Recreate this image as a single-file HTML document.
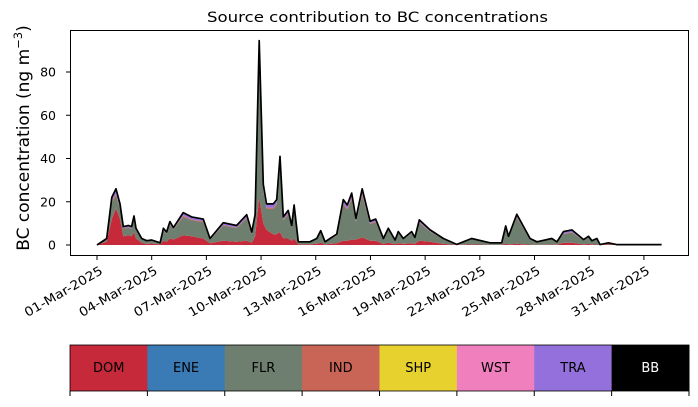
<!DOCTYPE html>
<html><head><meta charset="utf-8"><style>
body{margin:0;background:#fff;}
svg text{font-family:"DejaVu Sans","Liberation Sans",sans-serif;}
</style></head><body>
<svg id="chart" width="698" height="402" viewBox="0 0 698 402" xmlns="http://www.w3.org/2000/svg">
<text x="207" y="22" font-size="14.5" textLength="341" lengthAdjust="spacingAndGlyphs">Source contribution to BC concentrations</text>
<text transform="translate(29,138) rotate(-90)" font-size="17" text-anchor="middle">BC concentration (ng m<tspan font-size="11.5" dy="-7">−3</tspan><tspan dy="7">)</tspan></text>
<g id="layers"></g>
<g id="axes"></g>
<g id="cbar"></g>
</svg>
<script>
const days=[0,0.53,0.81,1.04,1.26,1.44,1.72,1.90,2.03,2.14,2.45,2.73,3.0,3.46,3.64,3.82,4.0,4.19,4.73,5.19,5.83,6.2,6.93,7.66,8.21,8.49,8.67,8.9,9.12,9.3,9.67,9.86,10.04,10.22,10.49,10.68,10.81,11.04,11.68,12.05,12.27,12.51,12.78,13.15,13.51,13.73,13.97,14.2,14.55,14.98,15.29,15.71,15.98,16.35,16.53,16.8,17.26,17.44,17.68,18.27,19.0,19.73,20.55,21.56,22.2,22.42,22.57,23.03,23.76,24.13,24.95,25.23,25.59,26.05,26.69,26.96,27.15,27.42,27.6,28.05,28.5,30.97];
const total=[0,3,22,26,19,8.5,9,8.5,13.4,7.7,3,2,2.3,1,7.7,6,10.8,8,15,13,12,3,10.3,9,14,6,14,94.5,28,19,19,21,41,13,16,9,18.5,1.5,1.5,3,6.6,1.5,3,5,21,18.5,24,12.3,26,11,12,3,7.7,2.3,6.2,3,6.2,3.5,11.6,7,3,0.3,3,1,1,8.8,4,14.2,3,1.5,3,1.5,6.2,7,2.5,4,2,3,0.2,1,0.2,0.2];
const dom=[0,1.5,12,17,12,4,4.5,4,6,3,1,0.5,0.7,0.3,2,1.5,3,2.5,4.5,4,3,0.8,2,1.5,2,1,4,22,10,7,5,5,6,3,3,2,3,0.3,0.3,0.6,1,0.3,0.5,0.8,2,2,2.5,2.5,3.5,2,2,0.5,1,0.4,0.8,0.5,0.8,0.5,2,1.5,0.5,0.05,0.3,0.1,0.1,0.5,0.3,0.5,0.2,0.1,0.2,0.1,1,1,0.3,0.5,0.2,0.3,0.02,0.3,0.1,0.1];
const ind=[0,0.1,0.6,0.8,0.6,0.3,0.3,0.3,0.4,0.2,0.1,0.1,0.1,0,0.2,0.2,0.3,0.2,0.5,0.4,0.4,0.1,0.3,0.3,0.4,0.2,0.4,3,0.8,0.6,0.6,0.6,1.2,0.4,0.5,0.3,0.6,0,0,0.1,0.2,0,0.1,0.2,0.6,0.6,0.7,0.4,0.8,0.3,0.4,0.1,0.2,0.1,0.2,0.1,0.2,0.1,0.4,0.2,0.1,0,0.1,0,0,0.3,0.1,0.4,0.1,0,0.1,0,0.2,0.2,0.1,0.1,0.1,0.1,0,0,0,0];
const tra=[0,0.3,1.8,2.2,1.6,0.7,0.8,0.7,1.1,0.7,0.3,0.2,0.2,0.1,0.7,0.6,1,0.7,1.4,1.2,1.1,0.3,1,0.9,1.3,0.6,1.3,6,2.4,1.7,1.7,1.8,3.5,1.1,1.4,0.8,1.6,0.1,0.1,0.3,0.6,0.1,0.3,0.5,1.8,1.6,2.1,1.1,2.3,1,1,0.3,0.7,0.2,0.6,0.3,0.6,0.3,1,0.6,0.3,0,0.3,0.1,0.1,0.7,0.3,1.1,0.3,0.1,0.3,0.1,0.9,1,0.3,0.4,0.2,0.3,0,0,0,0];
const tickLabels=["01-Mar-2025","04-Mar-2025","07-Mar-2025","10-Mar-2025","13-Mar-2025","16-Mar-2025","19-Mar-2025","22-Mar-2025","25-Mar-2025","28-Mar-2025","31-Mar-2025"];
const tickDays=[0,3,6,9,12,15,18,21,24,27,30];
const yTicks=[0,20,40,60,80];
const sources=["DOM","ENE","FLR","IND","SHP","WST","TRA","BB"];
const srcColors=["#c62a3a","#3a7bb5","#6e7f6f","#c96557","#e6d12f","#f07fbe","#9370db","#000000"];

const NS="http://www.w3.org/2000/svg";
const X=d=>97+d*18.23;
const Y=v=>245-v*2.1625;
function mk(tag,attrs,parent){const e=document.createElementNS(NS,tag);for(const k in attrs)e.setAttribute(k,attrs[k]);parent.appendChild(e);return e;}
const layers=document.getElementById('layers');
const c1=dom.map(v=>v);
const c3=total.map((t,i)=>t-ind[i]-tra[i]);
const c4=total.map((t,i)=>t-tra[i]);
function band(lo,hi,color,name){
  let d="M"+days.map((t,i)=>X(t).toFixed(1)+","+Y(hi[i]).toFixed(1)).join("L");
  for(let i=days.length-1;i>=0;i--)d+="L"+X(days[i]).toFixed(1)+","+Y(lo[i]).toFixed(1);
  const p=mk('path',{d:d+"Z",fill:color},layers);
  
  
}
const zero=days.map(()=>0);
band(zero,c1,srcColors[0],'area-dom');
band(c1,c3,srcColors[2],'area-flr');
band(c3,c4,srcColors[3],'area-ind');
band(c4,total,srcColors[6],'area-tra');
const line=mk('path',{d:"M"+days.map((t,i)=>X(t).toFixed(1)+","+Y(total[i]).toFixed(1)).join("L"),fill:"none",stroke:"#000","stroke-width":1.7,"stroke-linejoin":"round"},layers);



const axes=document.getElementById('axes');
const frame=mk('rect',{x:70.5,y:30.5,width:618,height:225,fill:"none",stroke:"#000","stroke-width":1},axes);


yTicks.forEach(v=>{
  mk('line',{x1:66,x2:70,y1:Y(v),y2:Y(v),stroke:"#000"},axes);
  const t=mk('text',{x:56,y:Y(v)+4.5,"font-size":12.5,"text-anchor":"end"},axes);
  t.textContent=v;
  
  
});
tickDays.forEach((d,i)=>{
  const x=X(d);
  mk('line',{x1:x,x2:x,y1:256,y2:260,stroke:"#000"},axes);
  const t=mk('text',{transform:`translate(${x+2},${265}) rotate(-30)`,"font-size":12.5,"text-anchor":"end",dy:"0.75em",textLength:88,lengthAdjust:"spacingAndGlyphs"},axes);
  t.textContent=tickLabels[i];
  
  
});
const cb=document.getElementById('cbar');
const w=619/sources.length;
sources.forEach((s,i)=>{
  const r=mk('rect',{x:70+i*w,y:345,width:w+0.5,height:46,fill:srcColors[i]},cb);
  
  
  const t=mk('text',{x:70+i*w+w/2,y:372,"font-size":13,"text-anchor":"middle",fill:s==="BB"?"#fff":"#000"},cb);
  t.textContent=s;
  
  
});
for(let i=0;i<=sources.length;i++){mk('line',{x1:70+i*w,x2:70+i*w,y1:391,y2:396,stroke:"#000"},cb);}
mk('rect',{x:70,y:345,width:619,height:46,fill:"none",stroke:"#000","stroke-width":0.8},cb);
</script>
</body></html>
